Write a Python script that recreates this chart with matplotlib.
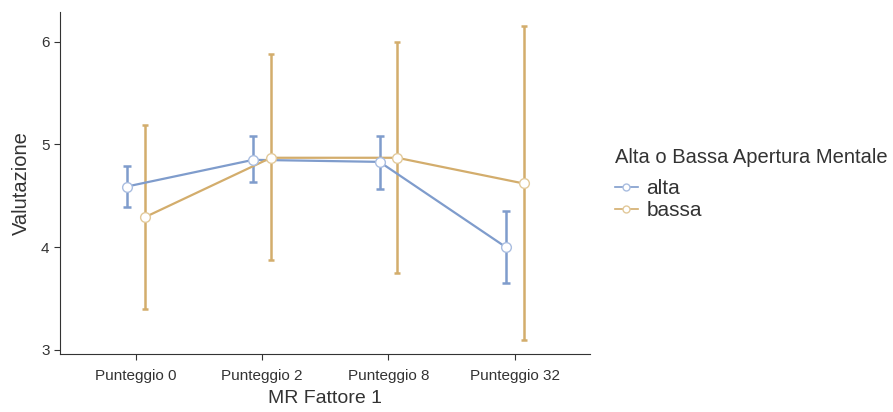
import numpy as np
import matplotlib.pyplot as plt
from matplotlib.lines import Line2D

plt.rcParams['font.family'] = ['Liberation Sans', 'DejaVu Sans']

categorie = ["Punteggio 0", "Punteggio 2", "Punteggio 8", "Punteggio 32"]
gruppi = ["alta", "bassa"]

alta_media = [4.59, 4.85, 4.83, 4.00]
alta_basso = [4.39, 4.63, 4.57, 3.65]
alta_alto = [4.79, 5.08, 5.08, 4.35]

bassa_media = [4.29, 4.87, 4.87, 4.62]
bassa_basso = [3.40, 3.87, 3.75, 3.10]
bassa_alto = [5.19, 5.88, 6.00, 6.15]

colori = {"alta": "#7f9ccc", "bassa": "#d3ad6c"}
bordi = {"alta": "#a9bde0", "bassa": "#e2c99a"}

fig = plt.figure(figsize=(8.93, 4.12), dpi=100)
ax = fig.add_axes([0.0672, 0.141, 0.594, 0.830])

x = np.arange(len(categorie))
dati = {
    "alta": (alta_media, alta_basso, alta_alto, -0.07),
    "bassa": (bassa_media, bassa_basso, bassa_alto, 0.07),
}

for g in gruppi:
    m, lo, hi, off = dati[g]
    m = np.array(m); lo = np.array(lo); hi = np.array(hi)
    xs = x + off
    cap = 3 if g == "alta" else 2
    ax.errorbar(xs, m, yerr=[m - lo, hi - m], fmt="none", ecolor=colori[g],
                elinewidth=1.8, capsize=cap, capthick=1.8, zorder=2)
    ax.plot(xs, m, "-", color=colori[g], lw=1.6, zorder=3)
    ax.plot(xs, m, "o", ms=7, mfc="white", mec=bordi[g], mew=1.0, zorder=4,
            label=g)

ax.set_xlim(-0.6, 3.6)
ax.set_ylim(2.96, 6.29)
ax.set_xticks(x)
ax.set_xticklabels(categorie)
ax.set_yticks([3, 4, 5, 6])
ax.tick_params(colors="#333333", labelsize=11, length=4)
ax.tick_params(axis="x", pad=7)
for s in ["top", "right"]:
    ax.spines[s].set_visible(False)
for s in ["left", "bottom"]:
    ax.spines[s].set_color("#333333")
ax.set_xlabel("MR Fattore 1", fontsize=14, color="#333333", labelpad=5)
ax.set_ylabel("Valutazione", fontsize=14.5, color="#333333", labelpad=7)

handles = [Line2D([0], [0], color=colori[g], lw=1.2, marker="o", ms=5,
                  mfc="white", mec=bordi[g]) for g in gruppi]
leg = fig.legend(handles, gruppi, title="Alta o Bassa Apertura Mentale",
                 loc="upper left", bbox_to_anchor=(0.67, 0.682), frameon=False,
                 fontsize=15, title_fontsize=14.5, handlelength=1.1,
                 handletextpad=0.4, labelspacing=0.15, borderpad=0.3)
leg._legend_box.align = "left"
leg._legend_box.sep = 9
for t in leg.get_texts():
    t.set_color("#333333")
leg.get_title().set_color("#333333")

fig.savefig("out.png", dpi=100)
